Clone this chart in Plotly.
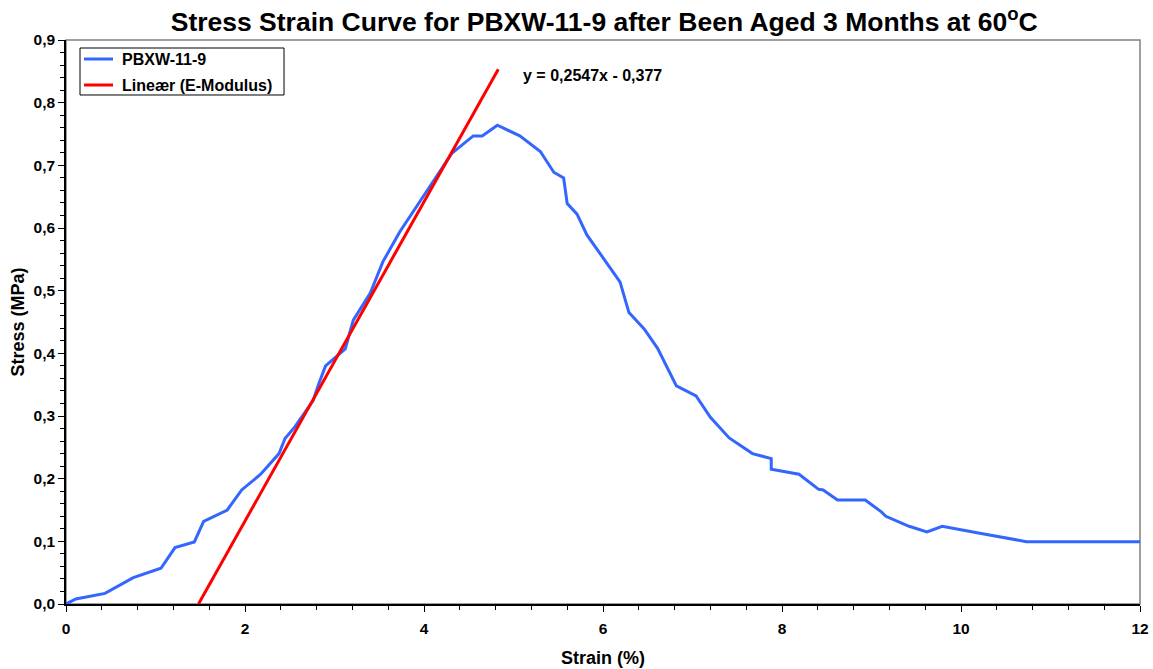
import plotly.graph_objects as go

strain = [0, 0.11, 0.436, 0.752, 1.061, 1.218, 1.434, 1.538, 1.802, 1.963, 2.175, 2.38, 2.447,
          2.559, 2.763, 2.82, 2.9, 3.12, 3.21, 3.4, 3.54, 3.7, 3.73, 4.31, 4.55, 4.65, 4.82,
          5.07, 5.30, 5.45, 5.56, 5.60, 5.71, 5.82, 6.19, 6.29, 6.46, 6.61, 6.82, 7.04, 7.20,
          7.41, 7.67, 7.88, 7.88, 8.19, 8.41, 8.46, 8.62, 8.93, 9.11, 9.16, 9.42, 9.62, 9.79,
          10.21, 10.73, 12.0]
stress = [0, 0.008, 0.017, 0.042, 0.057, 0.090, 0.099, 0.132, 0.150, 0.182, 0.207, 0.240, 0.264,
          0.283, 0.325, 0.35, 0.38, 0.407, 0.453, 0.496, 0.546, 0.587, 0.594, 0.719, 0.747, 0.747,
          0.764, 0.747, 0.722, 0.689, 0.680, 0.639, 0.622, 0.589, 0.514, 0.465, 0.439, 0.408,
          0.348, 0.332, 0.298, 0.265, 0.240, 0.232, 0.215, 0.207, 0.183, 0.182, 0.166, 0.166,
          0.147, 0.140, 0.124, 0.115, 0.124, 0.113, 0.0995, 0.0995]

slope = 0.2547
intercept = -0.377
fit_x_end = 4.83
fit_x = [-intercept / slope, fit_x_end]
fit_y = [slope * x + intercept for x in fit_x]

x_ticks = [0, 2, 4, 6, 8, 10, 12]
y_ticks = [0.0, 0.1, 0.2, 0.3, 0.4, 0.5, 0.6, 0.7, 0.8, 0.9]

series_names = ["PBXW-11-9", "Lineær (E-Modulus)"]
series_colors = ["#3366FF", "#FF0000"]

FONT = "Liberation Sans, Arial, sans-serif"

fig = go.Figure()
fig.add_trace(go.Scatter(x=strain, y=stress, mode="lines", name=series_names[0],
                         line=dict(color=series_colors[0], width=3), showlegend=False))
fig.add_trace(go.Scatter(x=fit_x, y=fit_y, mode="lines", name=series_names[1],
                         line=dict(color=series_colors[1], width=3), showlegend=False))

# plot-area frame (grey top/right like the reference)
fig.add_shape(type="rect", xref="paper", yref="paper", x0=0, y0=0, x1=1, y1=1,
              line=dict(color="#808080", width=1.5), layer="below")

# custom legend box
fig.add_shape(type="rect", xref="paper", yref="paper", x0=0.01304, x1=0.2030,
              y0=0.9025, y1=0.9858, line=dict(color="black", width=1), fillcolor="white")
legend_rows_y = [0.9663, 0.9202]
for name, color, ly in zip(series_names, series_colors, legend_rows_y):
    fig.add_shape(type="line", xref="paper", yref="paper", x0=0.0168, x1=0.0438, y0=ly, y1=ly,
                  line=dict(color=color, width=3))
    fig.add_annotation(x=0.0503, y=ly, xref="paper", yref="paper", text="<b>%s</b>" % name,
                       showarrow=False, xanchor="left", yanchor="middle",
                       font=dict(family=FONT, size=16, color="black"))

fig.add_annotation(x=5.08, y=0.844, xref="x", yref="y", text="<b>y = 0,2547x - 0,377</b>",
                   showarrow=False, xanchor="left", yanchor="middle",
                   font=dict(family=FONT, size=16, color="black"))

fig.update_layout(
    width=1153, height=669,
    margin=dict(l=66, r=13, t=40, b=65),
    paper_bgcolor="white", plot_bgcolor="white",
    separators=",.",
    font=dict(family=FONT, color="black"),
    title=dict(text="<b>Stress Strain Curve for PBXW-11-9 after Been Aged 3 Months at 60<sup>o</sup>C</b>",
               x=0.524, xanchor="center", y=0.967, yanchor="middle",
               font=dict(family=FONT, size=26.5, color="black")),
    showlegend=False,
    xaxis=dict(range=[0, 12], tickvals=x_ticks, showgrid=False, zeroline=False,
               showline=True, linecolor="black", linewidth=1.5, automargin=False,
               ticks="outside", ticklen=6, tickwidth=1, tickcolor="black",
               ticklabelstandoff=4,
               tickfont=dict(family=FONT, size=15.5, weight="bold"),
               minor=dict(dtick=0.4, ticks="outside", ticklen=4, tickcolor="black", showgrid=False),
               title=dict(text="<b>Strain (%)</b>", font=dict(family=FONT, size=18), standoff=15)),
    yaxis=dict(range=[0, 0.9], tickvals=y_ticks, tickformat=".1f", showgrid=False, zeroline=False,
               showline=True, linecolor="black", linewidth=1.5, automargin=False,
               ticks="outside", ticklen=6, tickwidth=1, tickcolor="black",
               tickfont=dict(family=FONT, size=15.5, weight="bold"),
               minor=dict(dtick=0.02, ticks="outside", ticklen=4, tickcolor="black", showgrid=False),
               title=dict(text="<b>Stress (MPa)</b>", font=dict(family=FONT, size=18), standoff=4)),
)

fig.write_html("out.html", config={"displayModeBar": False},
               post_script="document.body.style.margin='0px';")
